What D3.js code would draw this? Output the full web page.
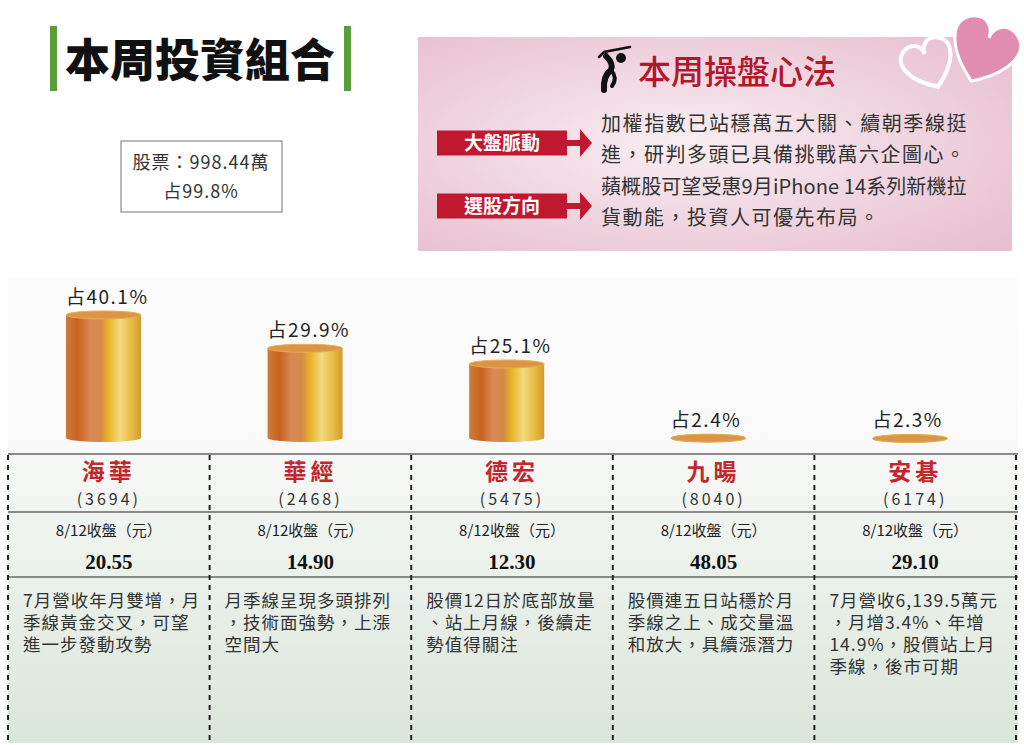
<!DOCTYPE html>
<html>
<head>
<meta charset="utf-8">
<script src="https://cdn.jsdelivr.net/npm/d3@7"></script>
<style>
  body { margin: 0; background: #fff; }
  svg { display: block; }
  text { font-family: "Noto Sans CJK TC", "Noto Sans", sans-serif; }
</style>
</head>
<body>
<div id="chart"></div>
<script>
var width = 1024, height = 745;

// stocks in this week's portfolio
var names = ["海華", "華經", "德宏", "九暘", "安碁"],
    codes = ["3694", "2468", "5475", "8040", "6174"],
    shares = [40.1, 29.9, 25.1, 2.4, 2.3],
    prices = ["20.55", "14.90", "12.30", "48.05", "29.10"];

var notes = [
  ["7月營收年月雙增，月", "季線黃金交叉，可望", "進一步發動攻勢"],
  ["月季線呈現多頭排列", "，技術面強勢，上漲", "空間大"],
  ["股價12日於底部放量", "、站上月線，後續走", "勢值得關注"],
  ["股價連五日站穩於月", "季線之上、成交量溫", "和放大，具續漲潛力"],
  ["7月營收6,139.5萬元", "，月增3.4%、年增", "14.9%，股價站上月", "季線，後市可期"]
];

var stockTotal = ["股票：998.44萬", "占99.8%"];

var tipLabels = ["大盤脈動", "選股方向"],
    tipLines = [
      ["加權指數已站穩萬五大關、續朝季線挺", "進，研判多頭已具備挑戰萬六企圖心。"],
      ["蘋概股可望受惠9月iPhone 14系列新機拉", "貨動能，投資人可優先布局。"]
    ];

var base = 442, left = 8, right = 1016;

var svg = d3.select("#chart").append("svg")
    .attr("width", width)
    .attr("height", height);

var defs = svg.append("defs");

var gPanel = defs.append("linearGradient").attr("id", "panel")
    .attr("x1", 0).attr("x2", 0).attr("y1", 0).attr("y2", 1);
gPanel.append("stop").attr("offset", "0%").attr("stop-color", "#fcfcfc");
gPanel.append("stop").attr("offset", "35%").attr("stop-color", "#f8f9f8");
gPanel.append("stop").attr("offset", "100%").attr("stop-color", "#dae6da");

var gPink = defs.append("radialGradient").attr("id", "pink")
    .attr("cx", "45%").attr("cy", "50%").attr("r", "70%");
gPink.append("stop").attr("offset", "0%").attr("stop-color", "#f8eef2");
gPink.append("stop").attr("offset", "100%").attr("stop-color", "#e8bfd0");

var gCyl = defs.append("linearGradient").attr("id", "cyl");
[["0%", "#cf7a3c"], ["16%", "#c8621f"], ["32%", "#d98a55"], ["46%", "#d5894a"],
 ["56%", "#e7b222"], ["72%", "#f2d982"], ["88%", "#e6bb3e"], ["100%", "#d29a2c"]]
  .forEach(function(s) {
    gCyl.append("stop").attr("offset", s[0]).attr("stop-color", s[1]);
  });

// title
svg.append("rect").attr("x", 50).attr("y", 26).attr("width", 7).attr("height", 65).attr("fill", "#5a9e3a");
svg.append("rect").attr("x", 344).attr("y", 26).attr("width", 7).attr("height", 65).attr("fill", "#5a9e3a");
svg.append("text")
    .attr("x", 200).attr("y", 77)
    .attr("text-anchor", "middle")
    .style("font-size", "45px").style("font-weight", 900)
    .attr("fill", "#111")
    .text("本周投資組合");

// stock total box
svg.append("rect")
    .attr("x", 121).attr("y", 141).attr("width", 161).attr("height", 71)
    .attr("fill", "#fff").attr("stroke", "#8a8a8a").attr("stroke-width", 1.2);
svg.selectAll(".tot")
    .data(stockTotal)
    .enter().append("text")
    .attr("x", 201)
    .attr("y", function(d, i) { return 169 + i * 29; })
    .attr("text-anchor", "middle")
    .style("font-size", "18px")
    .style("letter-spacing", "1px")
    .attr("fill", "#333")
    .text(function(d) { return d; });

// pink tip panel
svg.append("rect")
    .attr("x", 418).attr("y", 37).attr("width", 594).attr("height", 214)
    .attr("fill", "url(#pink)");

function heart(cx, cy, s, rot) {
  var p = d3.path();
  p.moveTo(0, 0.38);
  p.bezierCurveTo(-0.45, 0.08, -0.6, -0.3, -0.3, -0.45);
  p.bezierCurveTo(-0.12, -0.53, 0, -0.38, 0, -0.25);
  p.bezierCurveTo(0, -0.38, 0.12, -0.53, 0.3, -0.45);
  p.bezierCurveTo(0.6, -0.3, 0.45, 0.08, 0, 0.38);
  p.closePath();
  return svg.append("path")
      .attr("d", p.toString())
      .attr("transform", "translate(" + cx + "," + cy + ") rotate(" + rot + ") scale(" + s + ")");
}
heart(930, 67, 56, -22).attr("fill", "none").attr("stroke", "#fff").attr("stroke-width", 4 / 56);
heart(982, 55, 74, 22).attr("fill", "#e18db0").attr("stroke", "#fff").attr("stroke-width", 3 / 74);

// golfer icon
var golf = svg.append("g").attr("fill", "none").attr("stroke", "#111").attr("stroke-linecap", "round");
golf.append("path").attr("d", "M599,57 L604,52 L630,47").attr("stroke-width", 2.5);
golf.append("circle").attr("cx", 621).attr("cy", 58).attr("r", 5).attr("fill", "#111").attr("stroke", "none");
golf.append("path").attr("d", "M606,56 Q614,64 611,70 Q603,76 604,90").attr("stroke-width", 6);
golf.append("path").attr("d", "M611,70 Q618,78 612,86").attr("stroke-width", 4);

svg.append("text")
    .attr("x", 638).attr("y", 84)
    .style("font-size", "33px").style("font-weight", 500)
    .attr("fill", "#b3172c")
    .text("本周操盤心法");

var tips = svg.selectAll(".tip")
    .data(tipLabels)
    .enter().append("g")
    .attr("transform", function(d, i) { return "translate(0," + (i ? 206 : 143) + ")"; });

tips.append("rect")
    .attr("x", 437).attr("y", -12.5).attr("width", 130).attr("height", 25)
    .attr("fill", "#c0182e");
tips.append("path")
    .attr("d", "M566,-3 L580,-3 L580,-14 L592,0 L580,14 L580,3 L566,3 Z")
    .attr("fill", "#c0182e");
tips.append("text")
    .attr("x", 502).attr("y", 7)
    .attr("text-anchor", "middle")
    .style("font-size", "19px").style("font-weight", 700)
    .attr("fill", "#fff")
    .text(function(d) { return d; });
tips.selectAll(".line")
    .data(function(d, i) { return tipLines[i]; })
    .enter().append("text")
    .attr("x", 601)
    .attr("y", function(d, j) { return -12 + j * 31; })
    .attr("textLength", function(d, j) { return j === 0 ? 367 : null; })
    .attr("lengthAdjust", "spacing")
    .style("font-size", "20px")
    .style("letter-spacing", "1.5px")
    .attr("fill", "#333")
    .text(function(d) { return d; });

// lower panel
svg.append("rect")
    .attr("x", 8).attr("y", 277).attr("width", 1010).attr("height", 466)
    .attr("fill", "url(#panel)");

var x = d3.scaleBand().domain(names).range([left, right]).paddingInner(0).paddingOuter(0),
    y = d3.scaleLinear().domain([0, 50]).range([base, base - 163.4]);

var barW = 75, ry = 4;

var bars = svg.selectAll(".bar")
    .data(names)
    .enter().append("g")
    .attr("class", "bar")
    .attr("transform", function(d) { return "translate(" + (x(d) + 58) + ",0)"; });

bars.each(function(d, i) {
  var g = d3.select(this),
      top = y(shares[i]),
      body = Math.max(0, base - top - 2 * ry);
  g.append("rect")
      .attr("x", 0).attr("y", top + ry)
      .attr("width", barW).attr("height", body)
      .attr("fill", "url(#cyl)");
  g.append("ellipse")
      .attr("cx", barW / 2).attr("cy", top + ry + body)
      .attr("rx", barW / 2).attr("ry", ry)
      .attr("fill", "url(#cyl)");
  g.append("ellipse")
      .attr("cx", barW / 2).attr("cy", top + ry)
      .attr("rx", barW / 2).attr("ry", ry)
      .attr("fill", "#dc9448").attr("stroke", "#e6b050").attr("stroke-width", 1);
  g.append("text")
      .attr("x", 0).attr("y", top - 7)
      .style("font-size", "19px")
      .style("letter-spacing", "1.5px")
      .attr("fill", "#222")
      .text("占" + shares[i] + "%");
});

// table grid
[454, 512, 577].forEach(function(yy) {
  svg.append("line")
      .attr("x1", left).attr("x2", 1018)
      .attr("y1", yy).attr("y2", yy)
      .attr("stroke", "#8a8a8a").attr("stroke-width", 2);
});

var edges = names.map(function(d) { return x(d); }).concat([right]);
svg.selectAll(".vline")
    .data(edges)
    .enter().append("line")
    .attr("x1", function(d) { return d; }).attr("x2", function(d) { return d; })
    .attr("y1", 455).attr("y2", 740)
    .attr("stroke", "#222").attr("stroke-width", 2)
    .attr("stroke-dasharray", "5,5");

var cols = svg.selectAll(".col")
    .data(names)
    .enter().append("g")
    .attr("transform", function(d) { return "translate(" + x(d) + ",0)"; });

var cx = x.bandwidth() / 2;

cols.append("text")
    .attr("x", cx).attr("y", 480)
    .attr("text-anchor", "middle")
    .style("font-size", "23px").style("font-weight", 700)
    .style("letter-spacing", "4px")
    .attr("fill", "#c2272d")
    .text(function(d) { return d; });

cols.append("text")
    .attr("x", cx).attr("y", 505)
    .attr("text-anchor", "middle")
    .style("font-size", "16px")
    .style("letter-spacing", "3px")
    .attr("fill", "#333")
    .text(function(d, i) { return "(" + codes[i] + ")"; });

cols.append("text")
    .attr("x", cx).attr("y", 536)
    .attr("text-anchor", "middle")
    .style("font-size", "15px")
    .attr("fill", "#222")
    .text("8/12收盤（元）");

cols.append("text")
    .attr("x", cx).attr("y", 569)
    .attr("text-anchor", "middle")
    .style("font-family", "'Liberation Serif', 'DejaVu Serif', serif")
    .style("font-size", "21px").style("font-weight", 700)
    .attr("fill", "#111")
    .text(function(d, i) { return prices[i]; });

cols.selectAll(".note")
    .data(function(d, i) { return notes[i]; })
    .enter().append("text")
    .attr("x", 15)
    .attr("y", function(d, j) { return 607 + j * 22; })
    .style("font-size", "17.5px")
    .style("letter-spacing", "1px")
    .attr("fill", "#333")
    .text(function(d) { return d; });
</script>
</body>
</html>
